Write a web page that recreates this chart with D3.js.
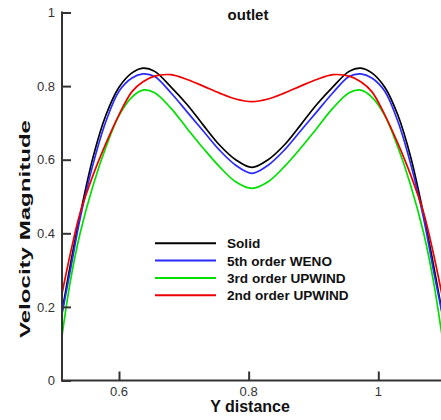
<!DOCTYPE html>
<html>
<head>
<meta charset="utf-8">
<script src="https://cdn.jsdelivr.net/npm/d3@7"></script>
<style>
  html, body { margin: 0; padding: 0; background: #fff; }
  svg { display: block; font-family: "Liberation Sans", Arial, sans-serif; }
</style>
</head>
<body>
<svg id="chart" width="441" height="420"></svg>
<script>
// ---- data ----
const yDistance = [0.512, 0.525, 0.54, 0.56, 0.58, 0.60, 0.62, 0.637, 0.655, 0.68, 0.705, 0.73, 0.755, 0.78, 0.805,
                   0.83, 0.855, 0.88, 0.905, 0.93, 0.955, 0.973, 0.99, 1.01, 1.03, 1.05, 1.07, 1.085, 1.098];
const solid   = [0.185, 0.315, 0.450, 0.607, 0.722, 0.797, 0.836, 0.849, 0.840, 0.798, 0.750, 0.694, 0.640, 0.600, 0.579,
                 0.600, 0.640, 0.694, 0.750, 0.798, 0.840, 0.849, 0.836, 0.797, 0.722, 0.607, 0.450, 0.315, 0.190];
const weno5   = [0.180, 0.300, 0.440, 0.588, 0.705, 0.786, 0.822, 0.833, 0.826, 0.782, 0.730, 0.678, 0.626, 0.585, 0.563,
                 0.585, 0.626, 0.678, 0.730, 0.782, 0.826, 0.833, 0.822, 0.786, 0.705, 0.588, 0.440, 0.300, 0.185];
const upwind3 = [0.120, 0.270, 0.400, 0.530, 0.635, 0.720, 0.770, 0.789, 0.782, 0.740, 0.685, 0.631, 0.581, 0.540, 0.522,
                 0.540, 0.581, 0.631, 0.685, 0.740, 0.782, 0.789, 0.770, 0.720, 0.635, 0.530, 0.400, 0.270, 0.125];
const upwind2 = [0.235, 0.345, 0.455, 0.558, 0.645, 0.722, 0.785, 0.812, 0.827, 0.831, 0.818, 0.800, 0.781, 0.765, 0.758,
                 0.765, 0.781, 0.800, 0.818, 0.831, 0.827, 0.812, 0.785, 0.722, 0.645, 0.558, 0.455, 0.345, 0.235];
const seriesNames = ["Solid", "5th order WENO", "3rd order UPWIND", "2nd order UPWIND"];
const seriesValues = [solid, weno5, upwind3, upwind2];
const seriesColors = ["#000000", "#2a2aff", "#00e000", "#ee0000"];
const xTicks = [0.6, 0.8, 1];
const yTicks = [0, 0.2, 0.4, 0.6, 0.8, 1];

// ---- layout ----
const svg = d3.select("#chart");
const x = d3.scaleLinear().domain([0.6, 1]).range([119, 378.3]);
const y = d3.scaleLinear().domain([0, 1]).range([380.5, 12.5]);
const xLeft = 62, xRight = 441;

svg.append("defs").append("clipPath").attr("id", "plotclip")
  .append("rect").attr("x", xLeft).attr("y", 0).attr("width", xRight - xLeft).attr("height", 381);

// curves
const line = d3.line()
  .x(d => x(d[0]))
  .y(d => y(d[1]))
  .curve(d3.curveCatmullRom.alpha(0.5));

const g = svg.append("g").attr("clip-path", "url(#plotclip)");
seriesValues.forEach((vals, i) => {
  g.append("path")
    .datum(yDistance.map((xv, j) => [xv, vals[j]]))
    .attr("fill", "none")
    .attr("stroke", seriesColors[i])
    .attr("stroke-width", 1.7)
    .attr("d", line);
});

// axes
const axisColor = "#333";
const yAxis = d3.axisRight(y).tickValues(yTicks).tickSize(9).tickFormat("");
const yg = svg.append("g").attr("transform", `translate(${xLeft},0)`).call(yAxis);
yg.select(".domain").remove();
yg.selectAll(".tick line").attr("stroke", axisColor).attr("stroke-width", 2);

const xAxis = d3.axisTop(x).tickValues(xTicks).tickSize(9).tickFormat("");
const xg = svg.append("g").attr("transform", `translate(0,${y(0)})`).call(xAxis);
xg.select(".domain").remove();
xg.selectAll(".tick line").attr("stroke", axisColor).attr("stroke-width", 2);

svg.append("line").attr("x1", xLeft).attr("x2", xLeft).attr("y1", y(1) - 1).attr("y2", y(0) + 1)
  .attr("stroke", axisColor).attr("stroke-width", 2);
svg.append("line").attr("x1", xLeft - 1).attr("x2", xRight).attr("y1", y(0)).attr("y2", y(0))
  .attr("stroke", axisColor).attr("stroke-width", 2);

// tick labels
svg.append("g").selectAll("text").data(yTicks).join("text")
  .attr("x", 55).attr("y", d => y(d) + 4.6)
  .attr("text-anchor", "end").attr("font-size", 13).attr("fill", "#333")
  .text(d => d3.format("~g")(d));
svg.append("g").selectAll("text").data(xTicks).join("text")
  .attr("x", d => x(d)).attr("y", 396)
  .attr("text-anchor", "middle").attr("font-size", 13).attr("fill", "#333")
  .text(d => d3.format("~g")(d));

// titles
svg.append("text").attr("x", 250).attr("y", 412).attr("text-anchor", "middle")
  .attr("font-size", 16).attr("font-weight", "bold").attr("fill", "#111").text("Y distance");
svg.append("text").attr("transform", "translate(30,229) rotate(-90)").attr("text-anchor", "middle")
  .attr("font-size", 15.5).attr("font-weight", "bold").attr("fill", "#111")
  .attr("textLength", 218).attr("lengthAdjust", "spacingAndGlyphs")
  .text("Velocity Magnitude");
svg.append("text").attr("x", 248).attr("y", 20).attr("text-anchor", "middle")
  .attr("font-size", 15).attr("font-weight", "bold").attr("fill", "#111").text("outlet");

// legend
const legend = svg.append("g");
seriesNames.forEach((name, i) => {
  const ry = 243.3 + i * 17.3;
  legend.append("line").attr("x1", 155).attr("x2", 216).attr("y1", ry).attr("y2", ry)
    .attr("stroke", seriesColors[i]).attr("stroke-width", 2);
  legend.append("text").attr("x", 227).attr("y", ry + 5)
    .attr("font-size", 13.6).attr("font-weight", "bold").attr("fill", "#111").text(name);
});
</script>
</body>
</html>
